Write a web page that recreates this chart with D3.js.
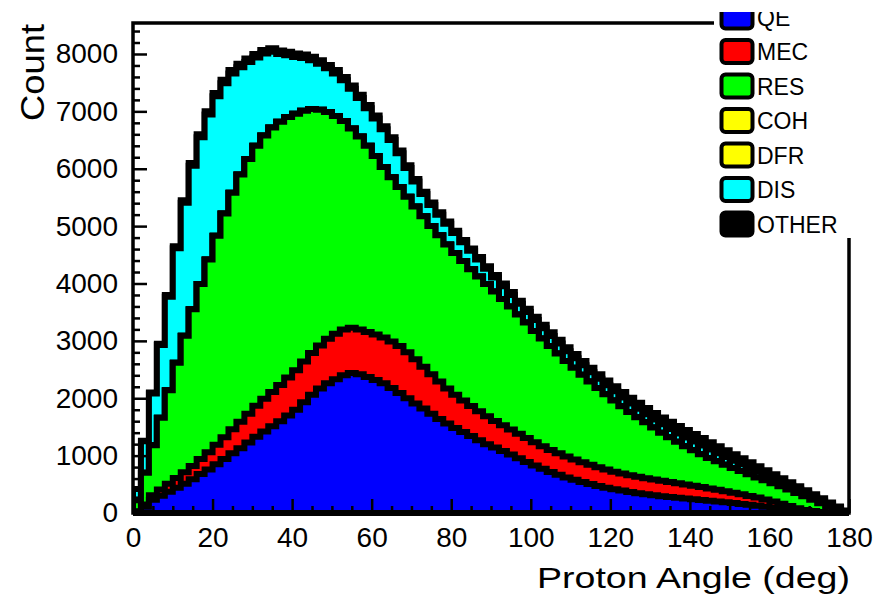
<!DOCTYPE html>
<html><head><meta charset="utf-8">
<script src="https://cdn.jsdelivr.net/npm/d3@7"></script>
<style>
body{margin:0;background:#fff}
svg{display:block}
text{font-family:"Liberation Sans",Arial,Helvetica,sans-serif;fill:#000}
</style>
</head><body>
<svg id="chart" width="889" height="601"></svg>
<script>
// Proton angle bins (centres, degrees), 2-degree wide
const angles = [1,3,5,7,9,11,13,15,17,19,21,23,25,27,29,31,33,35,37,39,41,43,45,47,49,51,53,55,57,59,
  61,63,65,67,69,71,73,75,77,79,81,83,85,87,89,91,93,95,97,99,101,103,105,107,109,111,113,115,117,119,
  121,123,125,127,129,131,133,135,137,139,141,143,145,147,149,151,153,155,157,159,161,163,165,167,169,171,173,175,177,179];
const binWidth = 2;

// Event counts per interaction channel
const qe = [20,110,230,300,370,440,510,590,680,760,850,940,1040,1130,1230,1330,1420,1510,1600,1700,
  1800,1930,2060,2170,2260,2330,2400,2440,2420,2370,
  2320,2260,2180,2090,2000,1910,1820,1730,1640,1560,1480,1410,1340,1270,1200,1140,1080,1020,955,890,
  830,770,715,665,620,578,540,505,472,442,
  415,390,367,346,327,310,294,279,265,252,239,226,213,200,187,173,159,144,128,110,90,68,45,25,12,5,2,0,0,0];
const mec = [10,40,80,110,140,170,200,230,260,300,340,380,420,460,500,540,570,600,630,660,
  690,710,730,750,775,795,800,790,780,785,
  790,800,810,820,800,770,730,690,650,610,580,550,525,505,485,465,450,435,425,415,
  405,395,385,375,365,355,345,335,325,315,
  305,298,291,284,278,272,266,260,252,244,236,227,216,205,193,180,167,154,140,125,110,92,75,58,42,28,16,8,3,0];
const res = [200,550,870,1250,1630,2010,2380,2730,3050,3360,3640,3900,4120,4310,4440,4530,4590,4610,4590,4540,
  4470,4370,4250,4110,3955,3795,3630,3470,3360,3245,
  3110,2970,2860,2770,2710,2660,2620,2580,2550,2510,2470,2430,2385,2345,2305,2255,2200,2145,2080,2015,
  1935,1875,1810,1740,1665,1597,1525,1450,1383,1313,
  1240,1172,1102,1040,975,908,840,781,723,669,620,572,531,495,460,432,404,377,352,335,320,305,290,267,236,197,152,102,57,20];
const coh = [0,0,0,0,0,0,0,0,0,0,0,0,0,0,0,0,0,0,0,0,0,0,0,0,0,0,0,0,0,0,0,0,0,0,0,0,0,0,0,0,0,0,0,0,0,
  0,0,0,0,0,0,0,0,0,0,0,0,0,0,0,0,0,0,0,0,0,0,0,0,0,0,0,0,0,0,0,0,0,0,0,0,0,0,0,0,0,0,0,0,0];
const dfr = [0,0,0,0,0,0,0,0,0,0,0,0,0,0,0,0,0,0,0,0,0,0,0,0,0,0,0,0,0,0,0,0,0,0,0,0,0,0,0,0,0,0,0,0,0,
  0,0,0,0,0,0,0,0,0,0,0,0,0,0,0,0,0,0,0,0,0,0,0,0,0,0,0,0,0,0,0,0,0,0,0,0,0,0,0,0,0,0,0,0,0];
const dis = [187,550,904,1268,1631,1995,2318,2503,2559,2526,2434,2272,2081,1870,1689,1538,1428,1318,1178,1078,
  988,919,849,799,760,741,712,693,674,655,
  657,658,650,592,504,436,388,370,360,360,350,330,320,298,266,244,222,200,188,185,
  192,179,176,173,170,167,164,161,158,155,
  160,155,150,145,140,140,145,145,147,150,150,150,147,141,135,126,118,110,103,91,80,72,64,60,55,50,45,40,29,13];
const other = [3,10,16,22,29,35,42,47,51,54,56,58,59,60,61,62,62,62,62,62,62,61,61,61,60,59,58,57,56,55,
  53,52,50,48,46,44,42,40,40,40,40,40,40,42,44,46,48,50,52,55,58,61,64,67,70,73,76,79,82,85,
  90,95,100,105,110,115,120,125,128,130,130,130,128,124,120,114,107,100,92,84,75,68,61,55,50,45,40,35,26,12];

const channels = ["QE","MEC","RES","COH","DFR","DIS","OTHER"];
const channelColors = ["#0000ff","#ff0000","#00ff00","#ffff00","#ffff00","#00ffff","#000000"];
const xTicks = [0,20,40,60,80,100,120,140,160,180];
const yTicks = [0,1000,2000,3000,4000,5000,6000,7000,8000];
const xTitle = "Proton Angle (deg)";
const yTitle = "Count";

const series = [qe, mec, res, coh, dfr, dis, other];
const rows = angles.map((a, i) => {
  const r = {angle: a};
  channels.forEach((c, k) => r[c] = series[k][i]);
  return r;
});

const svg = d3.select("#chart");
const frameL = 133, frameR = 849, frameT = 23, frameB = 513;
const x = d3.scaleLinear().domain([0, 180]).range([frameL, frameR]);
const y = d3.scaleLinear().domain([0, 8540]).range([frameB, frameT]);

const stacked = d3.stack().keys(channels)(rows);

svg.append("defs").append("clipPath").attr("id", "frameClip")
  .append("rect").attr("x", frameL).attr("y", frameT).attr("width", frameR - frameL).attr("height", frameB - frameT + 4);

// Stacked histograms, drawn from the top of the stack downwards
const hg = svg.append("g").attr("clip-path", "url(#frameClip)");
stacked.slice().reverse().forEach(layer => {
  const k = channels.indexOf(layer.key);
  const p = d3.path();
  p.moveTo(x(0), y(0));
  layer.forEach((d, i) => {
    const a = rows[i].angle;
    p.lineTo(x(a - binWidth / 2), y(d[1]));
    p.lineTo(x(a + binWidth / 2), y(d[1]));
  });
  p.lineTo(x(180), y(0));
  p.closePath();
  hg.append("path").attr("d", p.toString())
    .attr("fill", channelColors[k]).attr("stroke", "#000")
    .attr("stroke-width", 6).attr("stroke-linejoin", "miter");
});

// Frame
svg.append("rect").attr("x", frameL).attr("y", frameT).attr("width", frameR - frameL).attr("height", frameB - frameT)
  .attr("fill", "none").attr("stroke", "#000").attr("stroke-width", 3.5);

// Axes with inward ticks
const yMinor = d3.range(0, 8600, 200).filter(v => v % 1000 !== 0);
const xMinor = d3.range(0, 181, 5).filter(v => v % 20 !== 0);

function styleAxis(g) {
  g.select(".domain").remove();
  g.selectAll(".tick line").attr("stroke", "#000").attr("stroke-width", 2.5);
  g.selectAll("text").style("font-family", '"Liberation Sans",Arial,sans-serif');
}

svg.append("g").attr("transform", `translate(${frameL},0)`)
  .call(d3.axisLeft(y).tickValues(yMinor).tickSizeInner(-7).tickSizeOuter(0).tickFormat(""))
  .call(styleAxis);
svg.append("g").attr("transform", `translate(${frameL},0)`)
  .call(d3.axisLeft(y).tickValues(yTicks).tickSizeInner(-14).tickSizeOuter(0).tickPadding(15).tickFormat(d3.format("d")))
  .call(styleAxis)
  .call(g => g.selectAll("text").attr("font-size", 28).attr("fill", "#000"));

svg.append("g").attr("transform", `translate(0,${frameB})`)
  .call(d3.axisBottom(x).tickValues(xMinor).tickSizeInner(-7).tickSizeOuter(0).tickFormat(""))
  .call(styleAxis);
svg.append("g").attr("transform", `translate(0,${frameB})`)
  .call(d3.axisBottom(x).tickValues(xTicks).tickSizeInner(-14).tickSizeOuter(0).tickPadding(14).tickFormat(d3.format("d")))
  .call(styleAxis)
  .call(g => g.selectAll("text").attr("font-size", 28).attr("fill", "#000"));

// Axis titles
svg.append("text").attr("x", 850).attr("y", 588).attr("text-anchor", "end")
  .attr("font-size", 30).attr("textLength", 313).attr("lengthAdjust", "spacingAndGlyphs").text(xTitle);
svg.append("text").attr("transform", "translate(44,24) rotate(-90)").attr("text-anchor", "end")
  .attr("font-size", 33).attr("textLength", 97).attr("lengthAdjust", "spacingAndGlyphs").text(yTitle);

// Legend
const lg = svg.append("g");
lg.append("rect").attr("x", 714).attr("y", 0).attr("width", 175).attr("height", 238).attr("fill", "#fff");
channels.forEach((c, k) => {
  const cy = 17 + k * 34.5;
  lg.append("rect").attr("x", 721.5).attr("y", cy - 11.5).attr("width", 31).attr("height", 23).attr("rx", 4)
    .attr("fill", channelColors[k]).attr("stroke", "#000").attr("stroke-width", 4);
  lg.append("text").attr("x", 757).attr("y", cy + 8.5).attr("font-size", 23).text(c);
});
svg.append("rect").attr("x", 700).attr("y", 0).attr("width", 189).attr("height", 12).attr("fill", "#fff");
</script>
</body></html>
